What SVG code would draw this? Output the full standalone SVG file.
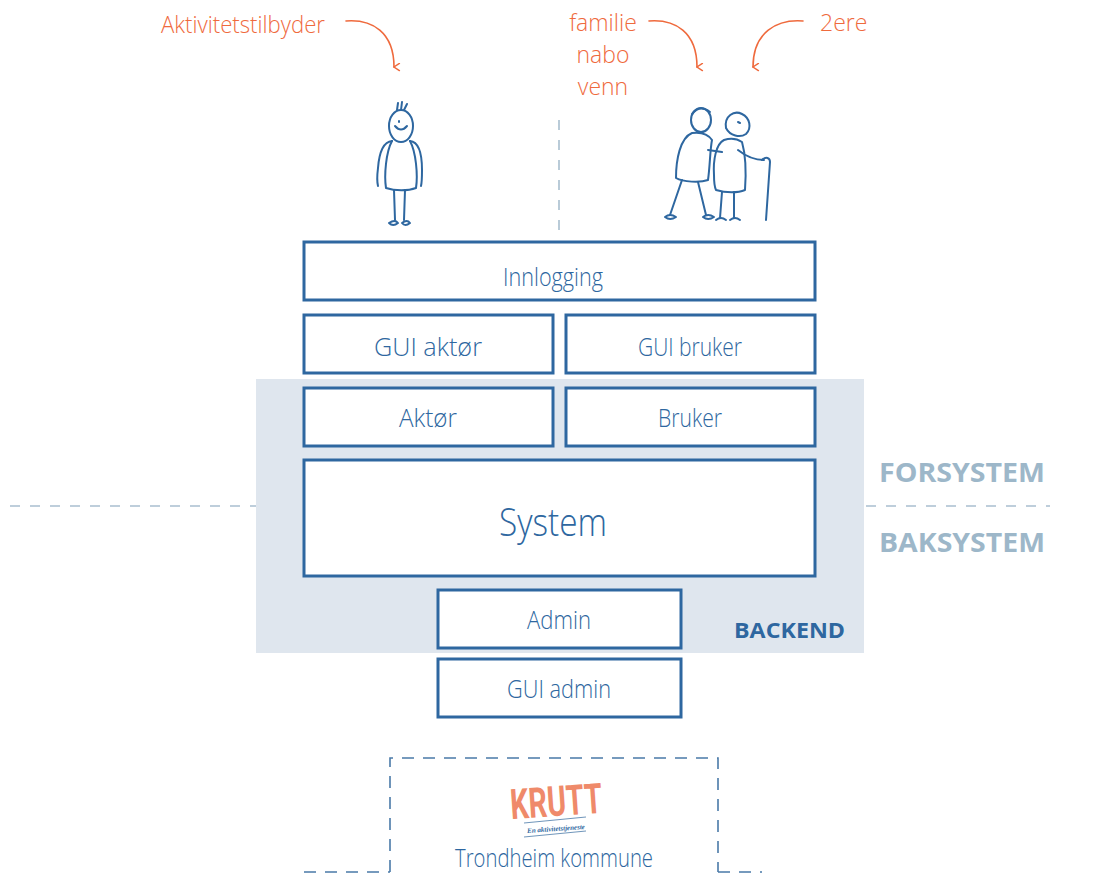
<svg xmlns="http://www.w3.org/2000/svg" width="1115" height="876" viewBox="0 0 1115 876">
  <defs>
    <style>
      .box { fill: #ffffff; stroke: #2e67a0; stroke-width: 3; }
      .lbl { font-family: "Open Sans", "Liberation Sans", sans-serif; font-weight: 300; fill: #2e67a0; text-anchor: middle; }
      .note { font-family: "Open Sans", "Liberation Sans", sans-serif; font-weight: 300; fill: #ef6a3d; }
      .curve { fill: none; stroke: #ef6a3d; stroke-width: 1.6; stroke-linecap: round; }
      .zone { font-family: "Open Sans", "Liberation Sans", sans-serif; font-weight: 700; fill: #9db7c9; }
      .sep { stroke: #a9bfcf; stroke-width: 1.6; stroke-dasharray: 10 10; fill: none; }
      .frame { stroke: #4a7aa8; stroke-width: 1.6; stroke-dasharray: 12 9; fill: none; }
      .ink { fill: none; stroke: #2e67a0; stroke-width: 2; stroke-linecap: round; stroke-linejoin: round; }
    </style>
    <marker id="tip" viewBox="0 0 10 10" refX="5" refY="9" markerWidth="9" markerHeight="9" orient="auto-start-reverse" markerUnits="userSpaceOnUse">
      <path d="M1 3 L5 9 L9 3" fill="none" stroke="#ef6a3d" stroke-width="1.6" stroke-linecap="round"/>
    </marker>
  </defs>

  <!-- backend area -->
  <rect id="backend-area" x="256" y="379" width="608" height="274" fill="#dfe6ee"/>

  <!-- separators -->
  <g id="separators">
    <line class="sep" x1="10" y1="506" x2="256" y2="506"/>
    <line class="sep" x1="866" y1="506" x2="1050" y2="506"/>
    <line class="sep" x1="559" y1="120" x2="559" y2="240"/>
  </g>

  <!-- zone labels -->
  <text class="zone" x="879" y="482" font-size="27" textLength="166" lengthAdjust="spacingAndGlyphs">FORSYSTEM</text>
  <text class="zone" x="879" y="552" font-size="27" textLength="166" lengthAdjust="spacingAndGlyphs">BAKSYSTEM</text>
  <text class="zone" x="734" y="638" font-size="22" textLength="111" lengthAdjust="spacingAndGlyphs" style="fill:#2e67a0">BACKEND</text>

  <!-- annotations -->
  <g id="annotations">
    <text class="note" x="161" y="33" font-size="24" textLength="164" lengthAdjust="spacingAndGlyphs">Aktivitetstilbyder</text>
    <text class="note" x="603" y="31" font-size="23" text-anchor="middle">familie</text>
    <text class="note" x="603" y="63" font-size="23" text-anchor="middle">nabo</text>
    <text class="note" x="603" y="95" font-size="23" text-anchor="middle">venn</text>
    <text class="note" x="820" y="31" font-size="23">2ere</text>
  </g>

  <!-- connectors -->
  <g id="connectors">
    <path class="curve" d="M346 21 C372 19 394 32 394 67" marker-end="url(#tip)"/>
    <path class="curve" d="M649 21 C675 19 697 32 697 67" marker-end="url(#tip)"/>
    <path class="curve" d="M803 21 C777 19 753 32 753 67" marker-end="url(#tip)"/>
  </g>

  <!-- single figure -->
  <g id="person-provider">
    <ellipse class="ink" cx="401" cy="126" rx="12" ry="16"/>
    <path class="ink" d="M397 110 L398 103 M401 110 L402 102 M404 110 L407 104"/>
    <path class="ink" d="M395 126 Q401 133 407 126"/>
    <path class="ink" d="M399 121 L399 122"/>
    <path class="ink" d="M392 141 C382 142 379 155 378 168 C377 176 377 182 378 186 M410 141 C420 142 422 158 422 170 C422 178 422 182 421 186"/>
    <path class="ink" d="M392 141 C386 152 384 175 386 188 C395 191 408 191 416 188 C418 175 416 152 410 141"/>
    <path class="ink" d="M394 190 L395 220 M405 190 L404 220"/>
    <path class="ink" d="M389 223 Q395 219 398 223 Q393 227 389 223 M402 223 Q407 219 410 223 Q405 227 402 223"/>
  </g>

  <!-- elderly couple -->
  <g id="person-couple">
    <ellipse class="ink" cx="701" cy="120" rx="10" ry="12"/>
    <path class="ink" d="M692 114 Q700 104 710 112"/>
    <path class="ink" d="M692 133 C680 138 676 160 676 178 C683 182 700 183 708 180 C710 166 710 150 712 140 C708 134 700 132 692 133"/>
    <path class="ink" d="M708 150 L722 152"/>
    <path class="ink" d="M682 180 L670 215 M698 182 L706 215"/>
    <path class="ink" d="M665 217 Q670 213 676 217 Q670 221 665 217 M703 217 Q708 213 714 217 Q708 221 703 217"/>
    <path class="ink" d="M726 128 C724 116 734 110 742 114 C750 118 752 128 746 134 C740 138 730 136 726 128"/>
    <path class="ink" d="M738 122 L740 123"/>
    <path class="ink" d="M724 140 C716 144 713 160 714 175 C714 182 715 188 716 190 C726 193 738 193 745 190 C746 176 746 156 742 142 C736 138 730 138 724 140"/>
    <path class="ink" d="M738 150 C748 158 756 160 764 160"/>
    <path class="ink" d="M722 192 L720 218 M734 192 L734 218"/>
    <path class="ink" d="M716 220 Q721 216 726 220 M730 220 Q735 216 740 220"/>
    <path class="ink" d="M762 160 C766 156 770 158 770 162 L766 220"/>
  </g>

  <!-- system stack -->
  <g id="node-innlogging">
    <rect class="box" x="304" y="242" width="511" height="58"/>
    <text class="lbl" x="553" y="286" font-size="26" textLength="100" lengthAdjust="spacingAndGlyphs">Innlogging</text>
  </g>
  <g id="node-gui-aktor">
    <rect class="box" x="304" y="315" width="249" height="58"/>
    <text class="lbl" x="428" y="356" font-size="26" textLength="108" lengthAdjust="spacingAndGlyphs">GUI aktør</text>
  </g>
  <g id="node-gui-bruker">
    <rect class="box" x="566" y="315" width="249" height="58"/>
    <text class="lbl" x="690" y="356" font-size="26" textLength="104" lengthAdjust="spacingAndGlyphs">GUI bruker</text>
  </g>
  <g id="node-aktor">
    <rect class="box" x="304" y="388" width="249" height="58"/>
    <text class="lbl" x="428" y="427" font-size="26" textLength="58" lengthAdjust="spacingAndGlyphs">Aktør</text>
  </g>
  <g id="node-bruker">
    <rect class="box" x="566" y="388" width="249" height="58"/>
    <text class="lbl" x="690" y="427" font-size="26" textLength="64" lengthAdjust="spacingAndGlyphs">Bruker</text>
  </g>
  <g id="node-system">
    <rect class="box" x="304" y="460" width="511" height="116"/>
    <text class="lbl" x="553" y="536" font-size="38" textLength="108" lengthAdjust="spacingAndGlyphs">System</text>
  </g>
  <g id="node-admin">
    <rect class="box" x="438" y="590" width="243" height="58"/>
    <text class="lbl" x="559" y="629" font-size="26" textLength="64" lengthAdjust="spacingAndGlyphs">Admin</text>
  </g>
  <g id="node-gui-admin">
    <rect class="box" x="438" y="659" width="243" height="58"/>
    <text class="lbl" x="559" y="698" font-size="26" textLength="104" lengthAdjust="spacingAndGlyphs">GUI admin</text>
  </g>

  <!-- municipality frame -->
  <g id="node-kommune">
    <path class="frame" d="M390 872 L390 758 L718 758 L718 872"/>
    <line class="frame" x1="304" y1="872" x2="390" y2="872"/>
    <line class="frame" x1="718" y1="872" x2="762" y2="872"/>
    <text x="556" y="816" font-family="'Liberation Sans Narrow','Roboto','Liberation Sans',sans-serif" font-weight="700" font-size="42" fill="#ef8a6a" text-anchor="middle" textLength="92" lengthAdjust="spacingAndGlyphs" transform="rotate(-4 556 800)">KRUTT</text>
    <line x1="524" y1="823" x2="586" y2="817" stroke="#4a7aa8" stroke-width="0.8"/>
    <text x="556" y="831" font-family="'Liberation Serif',serif" font-style="italic" font-weight="700" font-size="7" fill="#2e67a0" text-anchor="middle" transform="rotate(-4 556 829)">En aktivitetstjeneste</text>
    <line x1="524" y1="837" x2="586" y2="831" stroke="#4a7aa8" stroke-width="0.8"/>
    <text class="lbl" x="554" y="867" font-size="25" textLength="198" lengthAdjust="spacingAndGlyphs">Trondheim kommune</text>
  </g>
</svg>
